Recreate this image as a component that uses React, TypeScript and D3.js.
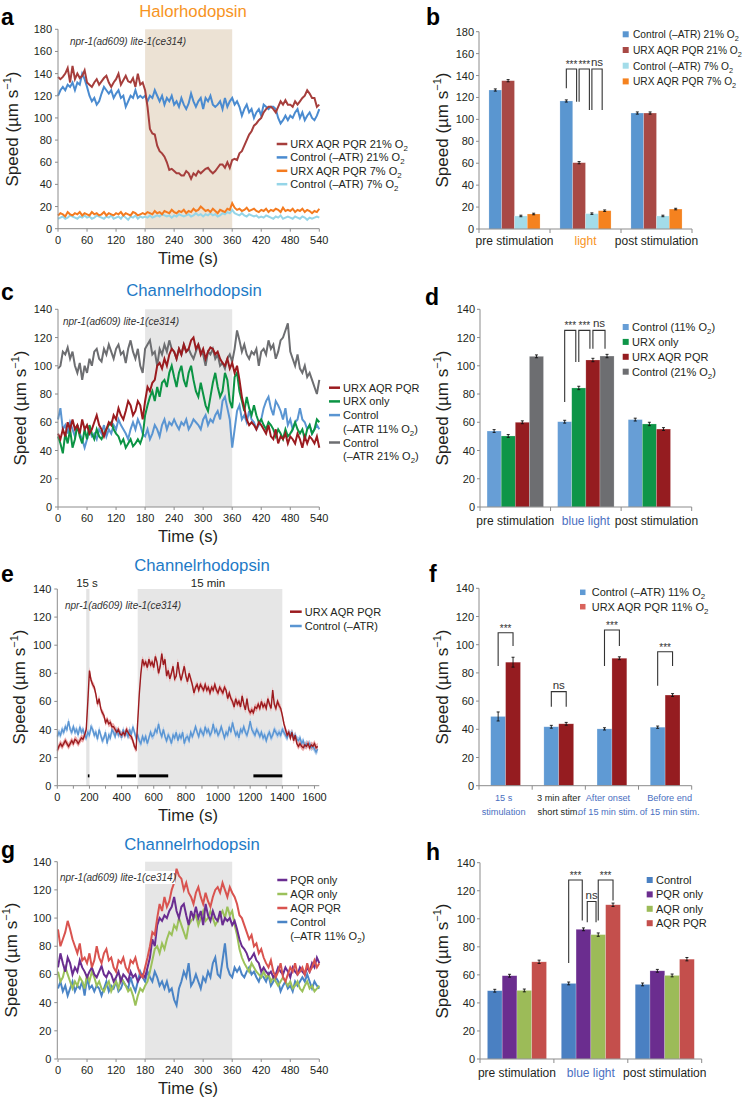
import React from 'react';
import * as d3 from 'd3';

const FONT = '"Liberation Sans", Arial, Helvetica, sans-serif';
const INK = '#231F20';
const AXIS = '#8C8C8C';

// ---------------- DATA ----------------
const time540 = d3.range(0, 541, 5);
const time1620 = d3.range(0, 1621, 10);

// Panel a (Halorhodopsin)
const aUrx21 = [137,135,137,140,145,132,147,135,140,136,138,143, 132,130,128,132,135,130,133,136,138,132,128,132, 135,140,130,134,138,133,132,136,128,140,130,132, 125,110,90,86,85,75,70,68,65,60,53,54, 52,50,50,48,48,52,50,45,50,48,52,50, 52,54,55,52,50,52,55,58,58,55,60,55, 62,63,62,68,70,75,80,85,88,93,95,98, 100,105,108,110,110,108,105,110,115,112,116,112, 112,110,115,112,115,118,120,125,122,118,118,110, 112];
const aCtl21 = [120,125,128,125,130,128,132,125,132,130,140,135, 128,120,115,118,112,115,122,128,125,122,125,118, 122,125,118,120,110,115,120,118,125,118,120,118, 120,115,120,118,125,120,115,120,112,118,115,120, 112,115,110,118,112,108,113,122,115,110,115,118, 108,118,115,120,112,110,112,115,108,118,110,115, 118,112,115,110,102,108,112,105,108,100,105,108, 102,112,110,108,110,110,108,100,95,98,102,98, 102,100,105,108,100,105,98,102,105,100,98,102, 108];
const aUrx7 = [12,14,13,11,15,13,12,14,13,15,12,14, 13,12,15,13,14,12,13,15,12,14,13,12, 14,13,15,12,14,13,12,15,14,12,13,14, 13,15,14,13,16,14,15,13,16,15,14,17, 15,14,16,15,17,14,16,15,18,16,17,20, 18,16,17,15,18,16,14,17,16,15,18,17, 23,19,17,18,16,17,19,16,17,18,16,15, 17,16,18,15,17,16,18,17,15,19,16,17, 16,18,15,17,16,18,15,17,16,14,16,15, 18];
const aCtl7 = [9,10,11,9,10,12,11,10,9,11,10,12, 10,11,9,10,12,11,10,9,11,10,12,9, 10,11,9,12,10,8,11,10,12,9,11,10, 11,10,12,10,11,12,11,13,12,11,12,10, 12,11,13,12,11,12,13,11,12,14,12,13, 11,13,12,14,12,13,11,12,14,13,15,14, 17,14,13,12,14,12,11,13,12,11,12,10, 11,10,12,11,10,9,11,10,12,9,10,11, 10,9,11,10,9,11,10,8,10,9,10,11, 10];

// Panel c
const cCtl21 = [98,100,110,108,113,105,110,100,95,102,90,100, 95,105,100,110,112,105,103,112,108,115,110,105, 112,115,108,110,102,112,118,110,105,112,100,95, 112,115,118,108,110,100,112,108,115,110,118,112, 110,105,112,108,115,110,112,108,105,110,115,110, 108,100,110,108,112,105,108,100,102,98,105,108, 103,112,125,118,110,115,108,105,110,108,112,100, 110,112,108,118,112,115,105,110,118,120,125,130, 110,105,100,108,98,95,100,92,95,90,85,80, 90];
const cUrxAll = [52,48,55,50,60,55,62,55,58,52,62,55, 58,52,55,60,65,58,55,50,55,60,58,65, 62,70,65,62,68,75,72,65,68,75,72,62, 75,85,82,88,90,100,102,98,105,100,108,112, 110,105,112,108,115,110,112,118,120,112,115,108, 112,105,110,113,112,108,110,105,102,100,105,98, 102,95,100,90,78,70,62,58,60,58,55,60, 58,55,52,58,50,48,55,45,50,48,52,45, 50,48,45,52,48,42,50,45,50,48,45,50, 42];
const cUrxOnly = [50,45,38,52,45,55,42,48,58,50,45,55, 48,58,52,48,55,50,48,52,55,58,60,55, 52,50,45,48,42,45,48,43,45,48,45,50, 65,72,78,82,75,85,78,88,90,85,95,100, 92,85,95,100,90,85,95,100,90,82,78,88, 80,72,68,78,88,95,85,78,82,95,90,75, 70,92,95,82,75,68,78,70,65,72,65,60, 62,58,55,60,58,55,50,55,52,48,55,50, 52,55,60,55,52,55,48,55,58,52,55,62, 60];
const cCtl11 = [62,70,55,58,52,60,55,50,58,52,48,42, 48,55,50,52,48,55,52,58,50,55,52,58, 55,62,58,55,52,48,55,60,55,62,58,52, 50,55,48,52,58,55,50,58,62,55,60,58, 62,58,55,60,58,62,55,58,62,60,58,55, 62,65,58,62,60,65,68,62,75,78,70,62, 42,55,68,72,62,65,60,68,62,60,55,58, 62,70,75,78,70,65,75,72,68,62,70,58, 62,55,60,62,70,62,60,55,58,52,55,58, 55];

// Panel e
const eUrx = [25,28,30,28,30,32,30,28,30,32, 30,33,32,30,32,34,33,36,40,60, 82,75,72,70,65,58,62,55,52,50, 45,47,44,45,42,42,40,38,40,37, 36,38,36,40,38,36,35,32,28,26, 45,65,80,90,86,88,84,90,86,88, 84,92,88,80,85,94,86,90,78,82, 76,80,85,76,78,88,80,75,80,85, 78,74,80,76,72,66,70,72,68,72, 70,68,72,68,70,66,70,68,72,68, 66,70,68,66,70,68,62,66,62,60, 56,62,58,60,56,64,58,54,62,54, 52,54,52,56,55,58,55,60,56,58, 55,62,58,55,68,58,55,60,57,55, 50,44,40,36,38,34,38,32,36,30, 28,30,28,27,29,28,30,27,29,28, 30,27,28];
const eCtl = [35,38,36,40,38,42,40,46,40,38, 42,38,40,36,42,38,40,36,34,38, 36,42,40,36,38,33,40,36,32,34, 38,30,36,34,40,38,35,40,36,38, 34,40,36,38,35,40,36,42,38,34, 36,32,30,35,32,35,30,34,38,35, 36,40,38,44,38,35,40,35,32,36, 34,30,36,34,38,32,36,34,38,30, 34,35,32,38,35,38,42,38,35,40, 38,36,42,38,40,36,38,44,38,40, 36,38,42,38,34,38,36,42,38,45, 40,36,38,34,40,38,42,38,36,40, 46,40,38,36,40,38,35,38,34,36, 32,36,38,34,36,40,38,36,38,36, 40,38,36,34,38,36,38,34,36,33, 32,34,30,32,28,30,29,30,27,28, 26,24,26];
const eSem = 2.5;
const eSigPeriods = [[190, 200], [370, 490], [510, 690], [1220, 1400]];
const eSigLevel = 7;

// Panel g
const gAqrPqr = [92,80,85,90,98,92,85,80,75,82,70,72, 68,75,65,70,80,72,68,75,78,70,72,65, 62,70,68,72,65,62,70,68,72,65,60,58, 65,72,80,90,88,100,110,105,115,108,112,120, 125,135,130,128,120,125,118,115,110,118,122,115, 110,118,112,108,115,120,122,118,125,120,115,122, 118,115,110,102,100,95,90,85,88,80,82,75, 78,72,68,65,70,62,58,62,68,58,55,60, 65,62,68,60,62,65,60,68,62,65,70,65, 68];
const gPqr = [65,75,68,62,72,68,60,65,62,70,65,62, 58,62,65,60,58,62,66,60,58,62,60,55, 58,62,55,60,58,55,62,58,60,55,58,60, 58,65,72,85,80,95,100,98,102,100,105,108, 115,105,100,108,110,102,95,105,100,108,100,105, 95,110,102,98,105,100,98,105,95,100,98,100, 95,98,92,85,80,78,75,70,72,75,70,68, 62,65,62,60,62,58,60,65,62,60,65,62, 58,65,62,60,65,62,60,65,62,68,65,72, 68];
const gAqr = [62,55,58,65,60,55,50,55,52,58,55,50, 60,55,62,58,52,55,50,48,52,55,48,52, 55,50,58,55,52,48,50,45,38,45,50,48, 52,55,62,70,78,80,75,82,78,85,90,88, 95,92,100,95,90,85,95,98,100,102,95,100, 105,98,100,105,100,95,98,102,105,100,108,102, 105,95,88,78,72,68,65,62,68,65,62,60, 58,62,58,60,55,58,55,52,55,58,55,52, 55,50,52,55,50,48,52,55,50,52,48,50, 52];
const gCtl = [50,55,48,52,45,50,55,48,52,50,55,45, 58,50,52,48,52,50,45,50,55,48,52,50, 55,48,50,55,52,50,58,52,48,55,62,58, 55,62,58,55,62,58,52,55,50,55,48,50, 42,38,50,55,62,58,68,52,55,60,55,50, 58,55,62,58,68,72,60,58,70,82,65,60, 58,65,62,65,60,58,62,65,60,62,58,55, 60,58,55,60,52,55,58,55,48,52,55,50, 52,48,55,52,55,58,55,60,55,50,55,52, 50];

// Bar panel b
const bCats = ['pre stimulation', 'light', 'post stimulation'];
const bSeries = ['Control (–ATR) 21% O_2', 'URX AQR PQR 21% O_2', 'Control (–ATR) 7% O_2', 'URX AQR PQR 7% O_2'];
const bVals = [[126.8, 135.3, 11.9, 13.7], [116.8, 60.5, 14, 16.7], [105.8, 105.8, 11.9, 18.2]];
const bErrs = [[1, 1, 0.7, 0.7], [1, 1, 0.7, 0.7], [1, 1, 0.7, 0.7]];
// Bar panel d
const dCats = ['pre stimulation', 'blue light', 'post stimulation'];
const dSeries = ['Control (11% O_2)', 'URX only', 'URX AQR PQR', 'Control (21% O_2)'];
const dVals = [[53.8, 50.3, 60, 106.7], [60.4, 84.3, 104.1, 106.9], [61.9, 58.8, 55.2, null]];
const dErrs = [[1, 1, 1, 1], [1, 1.2, 1.2, 1.2], [1, 1.2, 1, 0]];
// Bar panel f
const fCats = ['15 s|stimulation', '3 min after|short stim.', 'After onset|of 15 min stim.', 'Before end|of 15 min stim.'];
const fSeries = ['Control (–ATR) 11% O_2', 'URX AQR PQR 11% O_2'];
const fVals = [[49.1, 87.6], [41.8, 43.9], [40.3, 90.4], [41.5, 64.3]];
const fErrs = [[3.2, 3.5], [1, 1], [0.8, 1], [0.8, 1]];
// Bar panel h
const hCats = ['pre stimulation', 'blue light', 'post stimulation'];
const hSeries = ['Control', 'PQR only', 'AQR only', 'AQR PQR'];
const hVals = [[48.7, 59.4, 48.9, 69.3], [53.9, 92.5, 88.7, 110], [53.2, 62.9, 59.6, 71.2]];
const hErrs = [[1, 1, 1, 1.2], [1, 1, 1.2, 1.2], [1, 1, 1, 1.2]];

const yTicks180 = d3.range(0, 181, 20);
const yTicks140 = d3.range(0, 141, 20);
const xTicks540 = d3.range(0, 541, 60);
const xTicks1600 = d3.range(0, 1601, 200);
const xMinor1600 = d3.range(0, 1601, 100);

// ---------------- HELPERS ----------------
function Rich({ x, y, text, size = 11, fill = INK, anchor = 'start' }: any) {
  const parts = String(text).split('_2');
  const out: any[] = [];
  parts.forEach((p: string, i: number) => {
    if (i > 0) {
      out.push(<tspan key={'s' + i} fontSize={size * 0.72} dy={size * 0.28}>2</tspan>);
      out.push(<tspan key={'p' + i} dy={-size * 0.28}>{p}</tspan>);
    } else out.push(<tspan key={'p' + i}>{p}</tspan>);
  });
  return <text x={x} y={y} fontSize={size} fill={fill} textAnchor={anchor} fontFamily={FONT}>{out}</text>;
}

function SpeedLabel({ x, y }: any) {
  return (
    <text transform={`translate(${x},${y}) rotate(-90)`} textAnchor="middle" fontSize={17} fill={INK} fontFamily={FONT}>
      Speed (µm s<tspan fontSize={11} dy={-7}>−1</tspan><tspan dy={7}>)</tspan>
    </text>
  );
}

function AxisLeft({ x, scale, ticks, gap = 6 }: any) {
  const [r0, r1] = scale.range();
  return (
    <g>
      <line x1={x} x2={x} y1={r0} y2={r1} stroke={AXIS} strokeWidth={1} />
      {ticks.map((t: number) => (
        <g key={t}>
          <line x1={x - 3} x2={x} y1={scale(t)} y2={scale(t)} stroke={AXIS} />
          <text x={x - gap} y={scale(t) + 4} textAnchor="end" fontSize={11} fill={INK} fontFamily={FONT}>{t}</text>
        </g>
      ))}
    </g>
  );
}

function AxisBottomLin({ y, scale, labelTicks, minorTicks }: any) {
  const [r0, r1] = scale.range();
  return (
    <g>
      <line x1={r0} x2={r1} y1={y} y2={y} stroke={AXIS} strokeWidth={1} />
      {(minorTicks || labelTicks).map((t: number) => (
        <line key={'m' + t} x1={scale(t)} x2={scale(t)} y1={y} y2={y + 3} stroke={AXIS} />
      ))}
      {labelTicks.map((t: number) => (
        <text key={t} x={scale(t)} y={y + 15} textAnchor="middle" fontSize={11} fill={INK} fontFamily={FONT}>{t}</text>
      ))}
    </g>
  );
}

function LineLegend({ x, lineLen, y0, dy, items }: any) {
  let row = 0;
  return (
    <g>
      {items.map((it: any, i: number) => {
        const yy = y0 + row * dy;
        row += it.lines.length;
        return (
          <g key={i}>
            <line x1={x} x2={x + lineLen} y1={yy} y2={yy} stroke={it.color} strokeWidth={2.5} />
            {it.lines.map((l: string, k: number) => (
              <Rich key={k} x={x + lineLen + 3} y={yy + k * dy + 4} text={l} size={11} />
            ))}
          </g>
        );
      })}
    </g>
  );
}

function Letter({ t, x, y }: any) {
  return <text x={x} y={y} fontSize={23} fontWeight="bold" fill="#000" fontFamily={FONT}>{t}</text>;
}

function Title({ t, x, y, color }: any) {
  return <text x={x} y={y} fontSize={16.7} textAnchor="middle" fill={color} fontFamily={FONT}>{t}</text>;
}

function Strain({ x, y, bg }: any) {
  return (
    <g>
      {bg && <rect x={x - 1} y={y - 10} width={116} height={13} fill="#fff" />}
      <text x={x} y={y} fontSize={10} fontStyle="italic" fill="#333" fontFamily={FONT}>npr-1(ad609) lite-1(ce314)</text>
    </g>
  );
}

function BarPanel(p: any) {
  const x = d3.scaleBand().domain(p.cats).range(p.xr).padding(0);
  const bw = x.bandwidth();
  const gw = bw * p.groupRatio;
  const xi = d3.scaleBand().domain(p.series).range([0, gw]).padding(0);
  const y = d3.scaleLinear().domain([0, p.ymax]).range(p.yr);
  const cx = (c: number, s: number) => (x(p.cats[c]) as number) + (bw - gw) / 2 + (xi(p.series[s]) as number) + xi.bandwidth() / 2;
  const y0 = y(0);
  const legColors = p.legendColors || p.colors;
  const catDx = p.catDx || p.cats.map(() => 0);
  return (
    <g>
      {p.vals.map((row: (number | null)[], c: number) =>
        row.map((v, s) => {
          if (v == null) return null;
          const xc = cx(c, s);
          const w = xi.bandwidth();
          const e = p.errs[c][s];
          return (
            <g key={c + '-' + s}>
              <rect x={xc - w / 2} y={y(v)} width={w} height={y0 - y(v)} fill={p.colors[s]} stroke="#ffffff" strokeOpacity={0.35} strokeWidth={0.6} />
              <line x1={xc} x2={xc} y1={y(v + e)} y2={y(v - e)} stroke="#111" strokeWidth={0.9} />
              <line x1={xc - 1.5} x2={xc + 1.5} y1={y(v + e)} y2={y(v + e)} stroke="#111" strokeWidth={0.9} />
              <line x1={xc - 1.5} x2={xc + 1.5} y1={y(v - e)} y2={y(v - e)} stroke="#111" strokeWidth={0.9} />
            </g>
          );
        })
      )}
      <AxisLeft x={p.xr[0]} scale={y} ticks={p.yTicks} gap={5} />
      <line x1={p.xr[0]} x2={p.xr[1]} y1={y0} y2={y0} stroke={AXIS} />
      {d3.range(p.cats.length + 1).map((k) => (
        <line key={'t' + k} x1={p.xr[0] + k * bw} x2={p.xr[0] + k * bw} y1={y0} y2={y0 + 4} stroke={AXIS} />
      ))}
      {p.cats.map((c: string, i: number) => {
        const lines = c.split('|');
        const xc = (x(c) as number) + bw / 2 + catDx[i];
        return lines.map((l, k) => (
          <text key={c + k} x={xc} y={p.catLabelY + k * p.catLineH} textAnchor="middle" fontSize={p.catFont} fill={p.catColors[i]} fontFamily={FONT}>{l}</text>
        ));
      })}
      {p.brackets.map((b: any, i: number) => {
        const xl = cx(b.cat, b.i) + (b.dxL || 0);
        const xr = cx(b.cat, b.j) + (b.dxR || 0);
        const yt = y(b.top);
        const isNs = b.label === 'ns';
        return (
          <g key={'b' + i}>
            <path d={`M${xl},${y(b.l)}V${yt}H${xr}V${y(b.r)}`} fill="none" stroke="#333" strokeWidth={1.1} />
            <text x={(xl + xr) / 2} y={isNs ? yt - 3 : yt - 1} textAnchor="middle" fontSize={isNs ? 11.5 : 10} fill="#333" fontFamily={FONT}>{b.label}</text>
          </g>
        );
      })}
      {p.series.map((s: string, i: number) => {
        const yy = p.legend.y + i * p.legend.dy;
        return (
          <g key={'l' + i}>
            <rect x={p.legend.x} y={yy - p.legend.sq / 2} width={p.legend.sq} height={p.legend.sq} fill={legColors[i]} />
            <Rich x={p.legend.tx} y={yy + 4} text={s} size={p.legend.size} />
          </g>
        );
      })}
    </g>
  );
}

// ---------------- APP ----------------
export default function App() {
  const XL = 58, XR = 319.3;
  // panel a
  const ax = d3.scaleLinear().domain([0, 540]).range([XL, XR]);
  const ay = d3.scaleLinear().domain([0, 180]).range([228.7, 29.3]);
  const aLine = d3.line<number>().x((_, i) => ax(time540[i])).y((d) => ay(d));
  // panel c
  const cy = d3.scaleLinear().domain([0, 140]).range([507, 309.3]);
  const cLine = d3.line<number>().x((_, i) => ax(time540[i])).y((d) => cy(d));
  // panel e
  const ex = d3.scaleLinear().domain([0, 1630]).range([57.3, XR]);
  const ey = d3.scaleLinear().domain([0, 140]).range([785.7, 589]);
  const eLine = d3.line<number>().x((_, i) => ex(time1620[i])).y((d) => ey(d));
  const eArea = d3.area<number>().x((_, i) => ex(time1620[i])).y0((d) => ey(d - eSem)).y1((d) => ey(d + eSem));
  // panel g
  const gy = d3.scaleLinear().domain([0, 140]).range([1059, 861.7]);
  const gLine = d3.line<number>().x((_, i) => ax(time540[i])).y((d) => gy(d));

  const ORANGE = '#F7941E';
  const CHBLUE = '#1E7AC6';
  const LBLUE = '#4A6FC1';

  return (
    <svg width={750} height={1101} style={{ position: 'absolute', left: 0, top: 0 }} fontFamily={FONT}>
      <rect width={750} height={1101} fill="#fff" />

      {/* ===== Panel a ===== */}
      <rect x={ax(180)} y={ay(180)} width={ax(360) - ax(180)} height={ay(0) - ay(180)} fill="#ECE2D4" />
      <Title t="Halorhodopsin" x={193} y={17} color={ORANGE} />
      <Letter t="a" x={1} y={25} />
      <Strain x={70} y={45} />
      <path d={aLine(aCtl7) || ''} fill="none" stroke="#95D5E8" strokeWidth={2} />
      <path d={aLine(aUrx7) || ''} fill="none" stroke="#F47B20" strokeWidth={2} />
      <path d={aLine(aCtl21) || ''} fill="none" stroke="#4A8BD0" strokeWidth={2} />
      <path d={aLine(aUrx21) || ''} fill="none" stroke="#A63E3C" strokeWidth={2} />
      <AxisLeft x={XL} scale={ay} ticks={yTicks180} />
      <AxisBottomLin y={ay(0)} scale={ax} labelTicks={xTicks540} />
      <SpeedLabel x={17.5} y={129} />
      <text x={188} y={264} textAnchor="middle" fontSize={16.5} fill={INK} fontFamily={FONT}>Time (s)</text>
      <LineLegend x={276.7} lineLen={10.6} y0={144} dy={13.4} items={[
        { color: '#A63E3C', lines: ['URX AQR PQR 21% O_2'] },
        { color: '#4A8BD0', lines: ['Control (–ATR) 21% O_2'] },
        { color: '#F47B20', lines: ['URX AQR PQR 7% O_2'] },
        { color: '#95D5E8', lines: ['Control (–ATR) 7% O_2'] },
      ]} />

      {/* ===== Panel b ===== */}
      <Letter t="b" x={426} y={25} />
      <BarPanel cats={bCats} series={bSeries} vals={bVals} errs={bErrs}
        colors={['#5A96D0', '#A84945', '#A3DCE9', '#F5821F']}
        xr={[479, 692]} yr={[229, 31.7]} ymax={180} yTicks={yTicks180} groupRatio={0.72}
        catColors={[INK, ORANGE, INK]} catLabelY={245} catLineH={0} catFont={12}
        legend={{ x: 622.7, tx: 633, y: 34.3, dy: 15.7, sq: 6, size: 10.2 }}
        brackets={[
          { cat: 1, i: 0, j: 1, top: 146, l: 128.4, r: 116, dxR: -2.5, label: '***' },
          { cat: 1, i: 1, j: 2, top: 146, l: 116, r: 108.5, dxR: -2.5, label: '***' },
          { cat: 1, i: 2, j: 3, top: 146, l: 108.5, r: 108.5, dxR: -2.5, label: 'ns' },
        ]} />
      <SpeedLabel x={448} y={130} />

      {/* ===== Panel c ===== */}
      <rect x={ax(180)} y={cy(140)} width={ax(360) - ax(180)} height={cy(0) - cy(140)} fill="#E6E6E6" />
      <Title t="Channelrhodopsin" x={194} y={295.5} color={CHBLUE} />
      <Letter t="c" x={1} y={300} />
      <Strain x={63} y={325} />
      <path d={cLine(cCtl21) || ''} fill="none" stroke="#6D6E71" strokeWidth={2} />
      <path d={cLine(cCtl11) || ''} fill="none" stroke="#5A95D2" strokeWidth={2} />
      <path d={cLine(cUrxOnly) || ''} fill="none" stroke="#0B9444" strokeWidth={2} />
      <path d={cLine(cUrxAll) || ''} fill="none" stroke="#9B1B1F" strokeWidth={2} />
      <AxisLeft x={XL} scale={cy} ticks={yTicks140} />
      <AxisBottomLin y={cy(0)} scale={ax} labelTicks={xTicks540} />
      <SpeedLabel x={25.5} y={408} />
      <text x={188} y={542} textAnchor="middle" fontSize={16.5} fill={INK} fontFamily={FONT}>Time (s)</text>
      <LineLegend x={329} lineLen={11} y0={387.7} dy={13.7} items={[
        { color: '#9B1B1F', lines: ['URX AQR PQR'] },
        { color: '#0B9444', lines: ['URX only'] },
        { color: '#5A95D2', lines: ['Control', '(–ATR 11% O_2)'] },
        { color: '#6D6E71', lines: ['Control', '(–ATR 21% O_2)'] },
      ]} />

      {/* ===== Panel d ===== */}
      <Letter t="d" x={425} y={305} />
      <BarPanel cats={dCats} series={dSeries} vals={dVals} errs={dErrs}
        colors={['#679ED6', '#0E9548', '#951C20', '#6D6E71']}
        xr={[480, 691.7]} yr={[507, 309.3]} ymax={140} yTicks={yTicks140} groupRatio={0.8}
        catColors={[INK, LBLUE, INK]} catLabelY={525} catLineH={0} catFont={12}
        legend={{ x: 622.7, tx: 632, y: 327, dy: 14.9, sq: 6, size: 11 }}
        brackets={[
          { cat: 1, i: 0, j: 1, top: 125.1, l: 74.4, r: 102.7, dxR: -3, label: '***' },
          { cat: 1, i: 1, j: 2, top: 125.1, l: 102.7, r: 112.1, dxR: -3, label: '***' },
          { cat: 1, i: 2, j: 3, top: 125.1, l: 112.1, r: 112.1, dxR: -2, label: 'ns' },
        ]} />
      <SpeedLabel x={447.5} y={408} />

      {/* ===== Panel e ===== */}
      <rect x={ex(500)} y={ey(140)} width={ex(1400) - ex(500)} height={ey(0) - ey(140)} fill="#E6E6E6" />
      <rect x={ex(180)} y={ey(140)} width={ex(200) - ex(180)} height={ey(0) - ey(140)} fill="#E3E3E3" />
      <Title t="Channelrhodopsin" x={202} y={570.5} color={CHBLUE} />
      <Letter t="e" x={1} y={581.7} />
      <text x={87} y={587} textAnchor="middle" fontSize={11.5} fill={INK} fontFamily={FONT}>15 s</text>
      <text x={208} y={587} textAnchor="middle" fontSize={11.5} fill={INK} fontFamily={FONT}>15 min</text>
      <Strain x={65} y={608.5} />
      <path d={eArea(eCtl) || ''} fill="#A9C8EB" opacity={0.9} />
      <path d={eArea(eUrx) || ''} fill="#EBA1A1" opacity={0.9} />
      <path d={eLine(eCtl) || ''} fill="none" stroke="#5A95D2" strokeWidth={1.4} />
      <path d={eLine(eUrx) || ''} fill="none" stroke="#9B1B1F" strokeWidth={1.4} />
      {eSigPeriods.map((pr, i) => (
        <line key={i} x1={ex(pr[0])} x2={ex(pr[1])} y1={ey(eSigLevel)} y2={ey(eSigLevel)} stroke="#000" strokeWidth={3} />
      ))}
      <AxisLeft x={57.3} scale={ey} ticks={yTicks140} />
      <AxisBottomLin y={ey(0)} scale={ex} labelTicks={xTicks1600} minorTicks={xMinor1600} />
      <SpeedLabel x={25} y={687} />
      <text x={188} y={821} textAnchor="middle" fontSize={16.5} fill={INK} fontFamily={FONT}>Time (s)</text>
      <LineLegend x={290} lineLen={11.7} y0={611.7} dy={14.3} items={[
        { color: '#9B1B1F', lines: ['URX AQR PQR'] },
        { color: '#5A95D2', lines: ['Control (–ATR)'] },
      ]} />

      {/* ===== Panel f ===== */}
      <Letter t="f" x={429} y={581.7} />
      <BarPanel cats={fCats} series={fSeries} vals={fVals} errs={fErrs}
        colors={['#5F9AD4', '#951C20']} legendColors={['#5F9AD4', '#D9635C']}
        xr={[479, 691.7]} yr={[785.7, 588.3]} ymax={140} yTicks={yTicks140} groupRatio={0.56}
        catColors={[LBLUE, INK, LBLUE, LBLUE]} catLabelY={801} catLineH={13.5} catFont={9.2}
        catDx={[-2, 0, -4, 4.5]}
        legend={{ x: 580, tx: 591.7, y: 592.3, dy: 14.4, sq: 5.5, size: 11 }}
        brackets={[
          { cat: 0, i: 0, j: 1, top: 108.5, l: 84.9, r: 99.1, label: '***' },
          { cat: 1, i: 0, j: 1, top: 66.7, l: 56, r: 56, label: 'ns' },
          { cat: 2, i: 0, j: 1, top: 110.4, l: 84.9, r: 99.1, label: '***' },
          { cat: 3, i: 0, j: 1, top: 95, l: 70.9, r: 84.9, label: '***' },
        ]} />
      <SpeedLabel x={448} y={687} />

      {/* ===== Panel g ===== */}
      <rect x={ax(180)} y={gy(140)} width={ax(360) - ax(180)} height={gy(0) - gy(140)} fill="#E6E6E6" />
      <Title t="Channelrhodopsin" x={192} y={850.3} color={CHBLUE} />
      <Letter t="g" x={1} y={858} />
      <path d={gLine(gCtl) || ''} fill="none" stroke="#4A84C6" strokeWidth={2} />
      <path d={gLine(gAqr) || ''} fill="none" stroke="#9BC15A" strokeWidth={2} />
      <path d={gLine(gPqr) || ''} fill="none" stroke="#6A2D91" strokeWidth={2} />
      <path d={gLine(gAqrPqr) || ''} fill="none" stroke="#D9534F" strokeWidth={2} />
      <Strain x={60} y={881} bg />
      <AxisLeft x={57.3} scale={gy} ticks={yTicks140} />
      <AxisBottomLin y={gy(0)} scale={ax} labelTicks={xTicks540} />
      <SpeedLabel x={17} y={960} />
      <text x={188} y={1094} textAnchor="middle" fontSize={16.5} fill={INK} fontFamily={FONT}>Time (s)</text>
      <LineLegend x={277.3} lineLen={10} y0={880} dy={14} items={[
        { color: '#6A2D91', lines: ['PQR only'] },
        { color: '#9BC15A', lines: ['AQR only'] },
        { color: '#D9534F', lines: ['AQR PQR'] },
        { color: '#4A84C6', lines: ['Control', '(–ATR 11% O_2)'] },
      ]} />

      {/* ===== Panel h ===== */}
      <Letter t="h" x={426} y={860} />
      <BarPanel cats={hCats} series={hSeries} vals={hVals} errs={hErrs}
        colors={['#4A80C2', '#6B2D8F', '#9CBB58', '#C44F4C']}
        xr={[480, 701.7]} yr={[1059, 862.7]} ymax={140} yTicks={yTicks140} groupRatio={0.8}
        catColors={[INK, LBLUE, INK]} catLabelY={1076.5} catLineH={0} catFont={12}
        legend={{ x: 646.7, tx: 656, y: 880, dy: 14.4, sq: 6, size: 11 }}
        brackets={[
          { cat: 1, i: 0, j: 1, top: 127.7, l: 68.4, r: 98.8, dxR: -1.2, label: '***' },
          { cat: 1, i: 1, j: 2, top: 112.3, l: 97.6, r: 97.6, dxL: 3.8, dxR: -2.2, label: 'ns' },
          { cat: 1, i: 2, j: 3, top: 127.7, l: 98.8, r: 113, label: '***' },
        ]} />
      <SpeedLabel x={447.5} y={961} />
    </svg>
  );
}
